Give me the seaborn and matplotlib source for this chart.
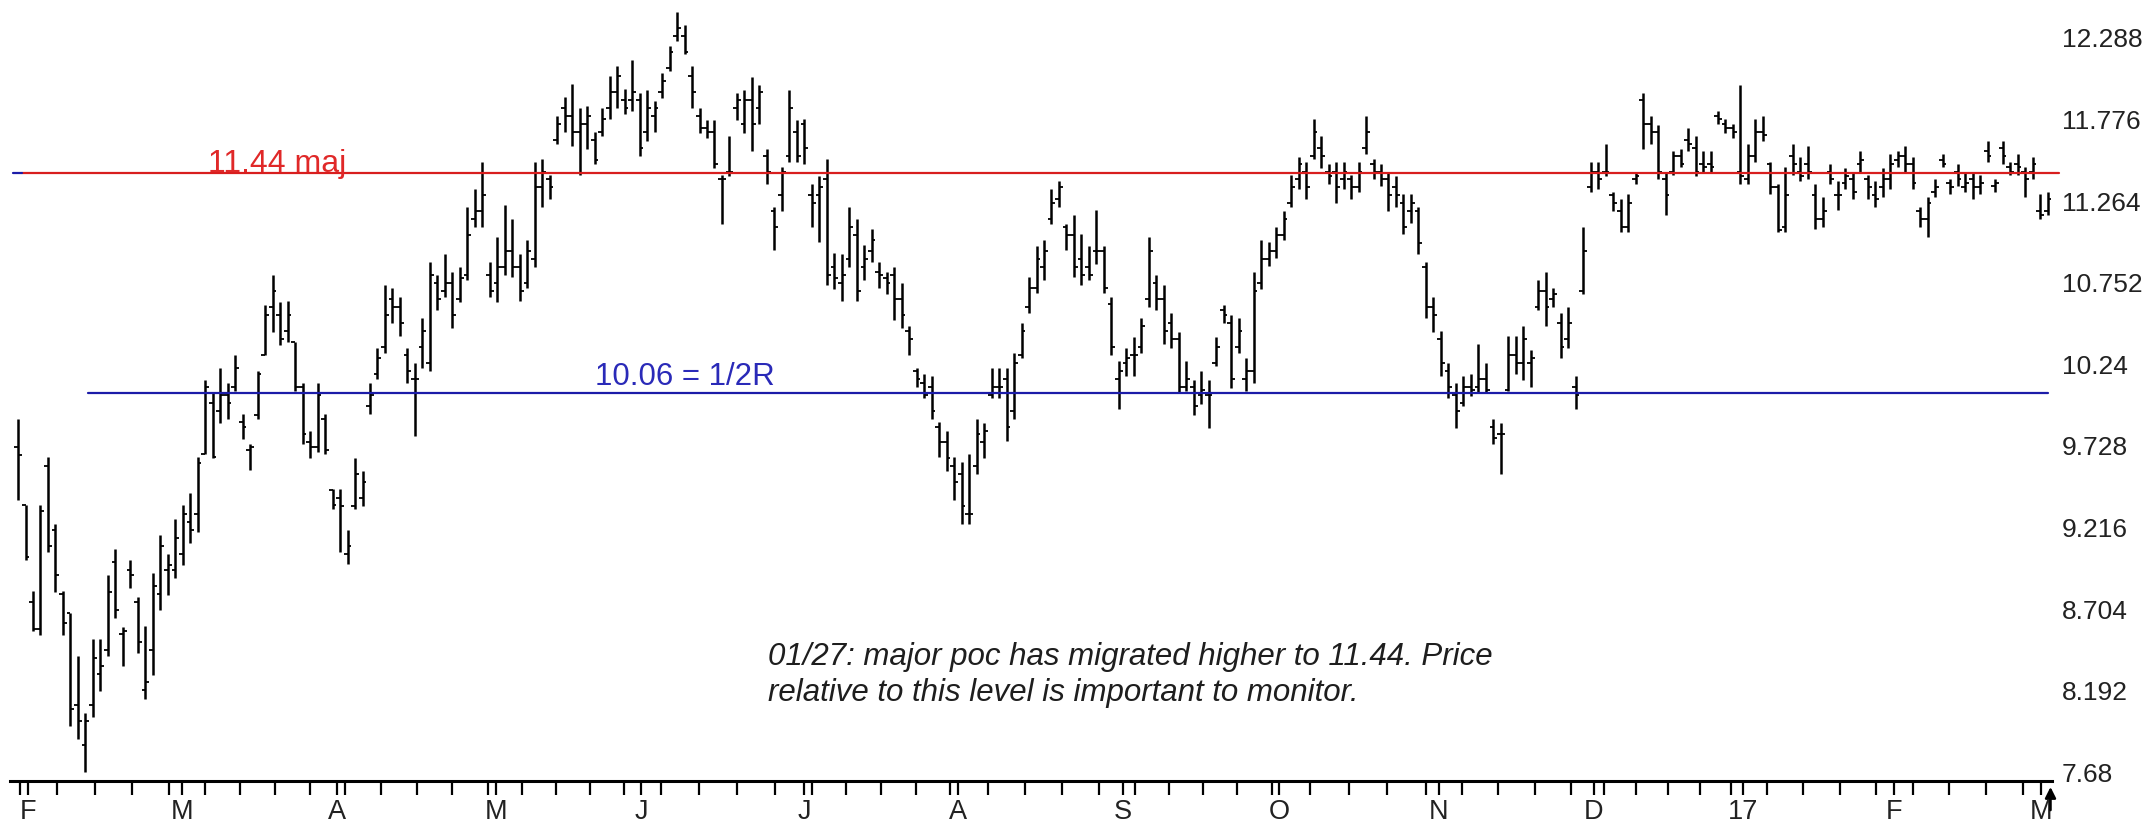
import numpy as np
import pandas as pd
import matplotlib
matplotlib.use("Agg")
import matplotlib.pyplot as plt
import seaborn as sns

# ---------------- data ----------------
highs = [
    9.90, 9.36, 8.82, 9.36, 9.66, 9.24, 8.82, 8.68, 8.41, 8.05,
    8.52, 8.52, 8.92, 9.08, 8.59, 9.01, 8.78, 8.60, 8.93, 9.17,
    9.05, 9.27, 9.36, 9.43, 9.66, 10.14, 10.06, 10.22, 10.12, 10.30,
    9.93, 9.74, 10.20, 10.61, 10.80, 10.63, 10.64, 10.38, 10.12, 9.82,
    10.12, 9.93, 9.46, 9.46,
    9.20, 9.65, 9.57, 10.12, 10.34, 10.74, 10.72, 10.66, 10.34, 10.25,
    10.53, 10.88, 10.80, 10.93, 10.82, 10.85, 11.23, 11.34, 11.51, 10.88,
    11.04, 11.24, 11.15, 10.93, 11.02, 11.51, 11.53, 11.43, 11.80, 11.92,
    12.00, 11.85, 11.86, 11.70, 11.85, 12.05, 12.11, 11.97, 12.15, 11.94,
    11.96, 11.89, 12.07, 12.24, 12.45, 12.37,
    12.11, 11.85, 11.77, 11.77, 11.43, 11.67, 11.94, 11.96, 12.04, 11.99,
    11.59, 11.23, 11.48, 11.96, 11.77, 11.78, 11.37, 11.42, 11.53, 10.94,
    10.93, 11.23, 11.15, 10.99, 11.09, 10.88, 10.82, 10.85, 10.75, 10.48,
    10.22, 10.18, 10.17, 9.88, 9.82, 9.66, 9.63, 9.68, 9.90, 9.87,
    10.22, 10.22, 10.22, 10.31, 10.50,
    10.79, 10.98, 11.02, 11.34, 11.39, 11.12, 11.18, 11.06, 10.98, 11.21,
    10.98, 10.66, 10.26, 10.34, 10.41, 10.53, 11.04, 10.80, 10.74, 10.56,
    10.44, 10.26, 10.14, 10.20, 10.14, 10.41, 10.61, 10.55, 10.53, 10.28,
    10.82, 11.02, 11.01, 11.10, 11.20, 11.43, 11.54, 11.51, 11.78, 11.67,
    11.50, 11.51, 11.51, 11.43, 11.51,
    11.80, 11.53, 11.50, 11.45, 11.42, 11.31, 11.31, 11.23, 10.88, 10.66,
    10.45, 10.25, 10.12, 10.17, 10.18, 10.37, 10.25, 9.90, 9.87, 10.42,
    10.42, 10.48, 10.33, 10.77, 10.82, 10.72, 10.56, 10.60, 10.17, 11.10,
    11.51, 11.51, 11.62, 11.32, 11.28, 11.31, 11.45, 11.94, 11.80, 11.74,
    11.45, 11.58, 11.59, 11.72, 11.67, 11.58,
    11.58, 11.83, 11.78, 11.75, 11.99, 11.62, 11.78, 11.80, 11.51, 11.37,
    11.48, 11.62, 11.54, 11.61, 11.37, 11.29, 11.50, 11.39, 11.47, 11.45,
    11.58, 11.43, 11.39, 11.47, 11.56, 11.58, 11.61, 11.54, 11.23, 11.29,
    11.40, 11.56, 11.40, 11.50, 11.45, 11.45, 11.43, 11.64, 11.40, 11.64,
    11.51, 11.56, 11.48, 11.54, 11.31, 11.32,
]
lows = [
    9.39, 9.01, 8.57, 8.54, 9.06, 8.81, 8.54, 7.97, 7.89, 7.68,
    8.03, 8.19, 8.41, 8.65, 8.35, 8.84, 8.43, 8.14, 8.29, 8.70,
    8.79, 8.90, 8.98, 9.12, 9.19, 9.68, 9.65, 9.87, 9.90, 10.07,
    9.77, 9.58, 9.90, 10.30, 10.44, 10.36, 10.38, 10.07, 9.74, 9.65,
    9.69, 9.68, 9.33, 9.06,
    8.99, 9.33, 9.35, 9.93, 10.15, 10.31, 10.50, 10.42, 10.12, 9.79,
    10.22, 10.20, 10.58, 10.66, 10.47, 10.63, 10.77, 11.10, 11.10, 10.66,
    10.63, 10.80, 10.79, 10.64, 10.72, 10.85, 11.23, 11.28, 11.62, 11.70,
    11.61, 11.43, 11.59, 11.50, 11.67, 11.78, 11.85, 11.81, 11.83, 11.55,
    11.64, 11.70, 11.91, 12.08, 12.27, 12.19,
    11.85, 11.69, 11.66, 11.47, 11.12, 11.42, 11.77, 11.69, 11.58, 11.75,
    11.37, 10.96, 11.20, 11.51, 11.51, 11.50, 11.10, 11.01, 10.74, 10.71,
    10.64, 10.85, 10.64, 10.77, 10.88, 10.72, 10.68, 10.52, 10.47, 10.30,
    10.10, 10.03, 9.90, 9.66, 9.57, 9.39, 9.24, 9.24, 9.55, 9.65,
    10.03, 10.03, 9.76, 9.90, 10.28,
    10.56, 10.69, 10.77, 11.12, 11.23, 10.96, 10.79, 10.74, 10.77, 10.87,
    10.69, 10.30, 9.96, 10.17, 10.17, 10.31, 10.60, 10.58, 10.37, 10.34,
    10.06, 10.07, 9.92, 9.99, 9.84, 10.23, 10.50, 10.09, 10.31, 10.07,
    10.12, 10.71, 10.86, 10.91, 11.02, 11.23, 11.34, 11.28, 11.53, 11.47,
    11.37, 11.25, 11.34, 11.28, 11.32,
    11.56, 11.40, 11.36, 11.20, 11.23, 11.06, 11.13, 10.93, 10.53, 10.44,
    10.17, 10.03, 9.84, 9.98, 10.04, 10.06, 10.06, 9.74, 9.55, 10.07,
    10.18, 10.14, 10.10, 10.58, 10.48, 10.60, 10.28, 10.34, 9.96, 10.68,
    11.32, 11.34, 11.42, 11.20, 11.07, 11.07, 11.37, 11.59, 11.62, 11.40,
    11.18, 11.43, 11.48, 11.58, 11.42, 11.45,
    11.45, 11.75, 11.69, 11.66, 11.37, 11.37, 11.51, 11.64, 11.31, 11.07,
    11.07, 11.43, 11.39, 11.40, 11.09, 11.10, 11.37, 11.21, 11.34, 11.28,
    11.45, 11.28, 11.23, 11.29, 11.34, 11.48, 11.45, 11.34, 11.10, 11.04,
    11.29, 11.48, 11.31, 11.36, 11.32, 11.28, 11.31, 11.51, 11.32, 11.50,
    11.43, 11.43, 11.29, 11.40, 11.15, 11.18,
]
opens = [
    9.72, 9.36, 8.75, 8.58, 9.60, 9.20, 8.80, 8.68, 8.10, 7.85,
    8.10, 8.30, 8.45, 9.00, 8.55, 8.95, 8.75, 8.20, 8.45, 8.80,
    8.95, 8.95, 9.05, 9.25, 9.30, 9.68, 10.00, 9.95, 10.05, 10.10,
    9.88, 9.70, 9.92, 10.30, 10.60, 10.55, 10.45, 10.38, 10.10, 9.75,
    9.72, 9.90, 9.45, 9.40,
    9.05, 9.35, 9.40, 9.98, 10.18, 10.35, 10.65, 10.60, 10.30, 10.15,
    10.35, 10.25, 10.75, 10.70, 10.75, 10.65, 10.80, 11.15, 11.20, 10.80,
    10.75, 10.85, 10.95, 10.85, 10.75, 10.90, 11.35, 11.40, 11.65, 11.85,
    11.80, 11.70, 11.75, 11.65, 11.70, 11.85, 11.95, 11.90, 11.90, 11.90,
    11.70, 11.80, 11.95, 12.10, 12.30, 12.30,
    12.05, 11.80, 11.72, 11.70, 11.40, 11.45, 11.85, 11.75, 11.90, 11.85,
    11.55, 11.20, 11.30, 11.55, 11.70, 11.75, 11.30, 11.30, 11.40, 10.85,
    10.75, 10.90, 11.05, 10.85, 10.95, 10.82, 10.78, 10.80, 10.65, 10.45,
    10.20, 10.12, 10.10, 9.85, 9.75, 9.60, 9.55, 9.30, 9.60, 9.75,
    10.05, 10.10, 10.15, 9.95, 10.30,
    10.60, 10.72, 10.85, 11.15, 11.28, 11.10, 11.05, 10.90, 10.85, 10.95,
    10.95, 10.62, 10.15, 10.25, 10.30, 10.35, 10.65, 10.75, 10.65, 10.50,
    10.40, 10.10, 10.10, 10.05, 10.05, 10.25, 10.58, 10.50, 10.35, 10.15,
    10.20, 10.75, 10.90, 10.95, 11.05, 11.25, 11.40, 11.45, 11.55, 11.60,
    11.45, 11.45, 11.40, 11.40, 11.35,
    11.60, 11.50, 11.45, 11.40, 11.35, 11.25, 11.20, 11.20, 10.85, 10.60,
    10.40, 10.20, 10.05, 10.00, 10.10, 10.10, 10.15, 9.85, 9.80, 10.08,
    10.30, 10.25, 10.25, 10.60, 10.70, 10.65, 10.50, 10.40, 10.10, 10.70,
    11.35, 11.45, 11.45, 11.30, 11.20, 11.10, 11.40, 11.90, 11.75, 11.70,
    11.40, 11.45, 11.55, 11.65, 11.60, 11.50,
    11.50, 11.80, 11.75, 11.72, 11.45, 11.40, 11.55, 11.70, 11.50, 11.35,
    11.10, 11.55, 11.45, 11.50, 11.30, 11.15, 11.45, 11.30, 11.38, 11.40,
    11.50, 11.40, 11.30, 11.35, 11.40, 11.52, 11.55, 11.50, 11.20, 11.15,
    11.32, 11.52, 11.38, 11.45, 11.35, 11.40, 11.35, 11.58, 11.36, 11.60,
    11.48, 11.50, 11.45, 11.45, 11.20, 11.20,
]
closes = [
    9.67, 9.03, 8.58, 9.32, 9.10, 8.92, 8.62, 8.08, 8.00, 8.00,
    8.40, 8.35, 8.81, 8.70, 8.57, 8.92, 8.50, 8.25, 8.85, 9.10,
    8.98, 9.15, 9.30, 9.20, 9.62, 10.10, 9.66, 10.05, 10.00, 10.22,
    9.85, 9.72, 10.18, 10.55, 10.70, 10.40, 10.55, 10.10, 9.80, 9.72,
    10.05, 9.70, 9.36, 9.35,
    9.10, 9.55, 9.50, 10.05, 10.28, 10.55, 10.60, 10.50, 10.20, 10.15,
    10.45, 10.80, 10.65, 10.75, 10.55, 10.78, 11.05, 11.20, 11.30, 10.70,
    10.85, 10.95, 10.85, 10.70, 10.95, 11.35, 11.45, 11.35, 11.75, 11.80,
    11.70, 11.75, 11.80, 11.52, 11.78, 11.95, 12.05, 11.85, 11.95, 11.60,
    11.85, 11.85, 12.02, 12.20, 12.35, 12.20,
    11.95, 11.72, 11.70, 11.50, 11.40, 11.45, 11.90, 11.90, 11.75, 11.95,
    11.45, 11.10, 11.45, 11.85, 11.55, 11.60, 11.25, 11.35, 10.80, 10.78,
    10.80, 11.10, 10.70, 10.90, 11.02, 10.80, 10.75, 10.65, 10.55, 10.40,
    10.15, 10.05, 9.95, 9.75, 9.65, 9.50, 9.35, 9.30, 9.80, 9.82,
    10.10, 10.10, 9.85, 10.25, 10.45,
    10.72, 10.90, 10.95, 11.25, 11.35, 11.05, 10.85, 10.80, 10.80, 10.95,
    10.72, 10.35, 10.20, 10.28, 10.30, 10.48, 10.95, 10.65, 10.45, 10.40,
    10.10, 10.15, 9.98, 10.08, 10.05, 10.35, 10.55, 10.15, 10.45, 10.20,
    10.70, 10.90, 10.95, 11.05, 11.15, 11.35, 11.50, 11.35, 11.70, 11.55,
    11.42, 11.35, 11.45, 11.35, 11.45,
    11.70, 11.45, 11.40, 11.30, 11.30, 11.10, 11.25, 11.00, 10.60, 10.55,
    10.25, 10.10, 9.95, 10.10, 10.08, 10.15, 10.08, 9.78, 9.80, 10.30,
    10.25, 10.40, 10.28, 10.70, 10.60, 10.68, 10.35, 10.50, 10.05, 10.95,
    11.45, 11.40, 11.45, 11.25, 11.10, 11.25, 11.42, 11.75, 11.70, 11.45,
    11.30, 11.55, 11.50, 11.62, 11.45, 11.48,
    11.48, 11.78, 11.72, 11.70, 11.42, 11.55, 11.70, 11.68, 11.35, 11.08,
    11.30, 11.50, 11.42, 11.45, 11.15, 11.20, 11.40, 11.30, 11.42, 11.32,
    11.52, 11.35, 11.28, 11.40, 11.50, 11.55, 11.50, 11.38, 11.15, 11.25,
    11.35, 11.50, 11.35, 11.40, 11.38, 11.35, 11.38, 11.55, 11.38, 11.55,
    11.45, 11.48, 11.40, 11.50, 11.18, 11.28,
]

poc_level = 11.44
poc_label = "11.44 maj"
half_r_level = 10.06
half_r_label = "10.06 = 1/2R"

ytick_vals = [7.68, 8.192, 8.704, 9.216, 9.728, 10.24, 10.752, 11.264, 11.776, 12.288]
ytick_labels = ["7.68", "8.192", "8.704", "9.216", "9.728", "10.24", "10.752",
                "11.264", "11.776", "12.288"]

month_labels = ["F", "M", "A", "M", "J", "J", "A", "S", "O", "N", "D", "17", "F", "M"]
month_starts = ["2016-02-01", "2016-03-01", "2016-04-01", "2016-05-02", "2016-06-01",
                "2016-07-01", "2016-08-01", "2016-09-01", "2016-10-03", "2016-11-01",
                "2016-12-01", "2017-01-03", "2017-02-01", "2017-03-01"]
# bar-index position of each month label on the axis
month_pos = [1.3, 21.9, 42.6, 63.8, 83.2, 105.0, 125.5, 147.5, 168.4, 189.7,
             210.4, 230.4, 250.5, 270.1]

note = ("01/27: major poc has migrated higher to 11.44. Price\n"
        "relative to this level is important to monitor.")

# ---------------- figure ----------------
sns.set_theme(style="white")
plt.rcParams["font.family"] = ["Liberation Sans", "DejaVu Sans"]

W, H = 2154, 821
fig = plt.figure(figsize=(W / 100, H / 100), dpi=100)
fig.patch.set_facecolor("white")
ax = fig.add_axes([10 / W, 40 / H, 2042 / W, 781 / H])
ax.set_facecolor("white")

df = pd.DataFrame({"high": highs, "low": lows, "open": opens, "close": closes})
df["bar"] = np.arange(len(df))

# OHLC bars
ax.vlines(df["bar"], df["low"], df["high"], color="black", linewidth=1.8)
ax.hlines(df["open"], df["bar"] - 0.5, df["bar"], color="black", linewidth=1.3)
ax.hlines(df["close"], df["bar"], df["bar"] + 0.5, color="black", linewidth=1.3)

# horizontal levels (seaborn line plots)
red = "#D81E1E"
blue = "#1C1CA8"
levels = pd.DataFrame({
    "x": [0.5, 272.6, -0.7, 0.5, 9.3, 271.1],
    "y": [poc_level, poc_level, poc_level, poc_level, half_r_level, half_r_level],
    "name": ["poc", "poc", "stub", "stub", "half", "half"],
})
sns.lineplot(data=levels, x="x", y="y", hue="name", units="name", estimator=None,
             palette={"poc": red, "stub": blue, "half": blue}, linewidth=1.6,
             legend=False, ax=ax, sort=False)
for ln in ax.lines:
    ln.set_clip_on(False)

ax.text(25.4, poc_level + 0.008, poc_label, color="#E02828", fontsize=23,
        va="baseline", ha="left")
ax.text(77.0, half_r_level + 0.05, half_r_label, color="#2A2AB8", fontsize=22.5,
        va="baseline", ha="left")

fig.text(768 / W, 1 - 675 / H, note, fontsize=22.5, style="italic", color="#1e1e1e",
         ha="left", va="center", linespacing=1.3)

# axes limits
ax.set_xlim(-1.07, 271.6)
ax.set_ylim(7.626, 12.526)

# x axis: month labels + weekly ticks
ms = pd.to_datetime(month_starts).astype("int64").to_numpy()
mondays = pd.date_range("2016-02-01", "2017-03-01", freq="W-MON")
week_pos = np.interp(mondays.astype("int64").to_numpy(), ms, month_pos) - 1.0
week_pos = week_pos[week_pos > -1.0]
ax.set_xticks(month_pos)
ax.set_xticklabels(month_labels)
ax.set_xticks(week_pos, minor=True)
ax.tick_params(axis="x", which="both", direction="out", length=10, width=1.6,
               color="black", bottom=True)
ax.tick_params(axis="x", which="major", labelsize=19.5, pad=3, labelcolor="#222222")

# small end-of-axis arrow marker
ax.annotate("", xy=(271.4, 7.626 - 0.02), xytext=(271.4, 7.626 - 0.2),
            xycoords="data", textcoords="data", annotation_clip=False,
            arrowprops=dict(arrowstyle="-|>", color="black", lw=1.8,
                            mutation_scale=16))

# y axis on the right
ax.yaxis.tick_right()
ax.set_yticks(ytick_vals)
ax.set_yticklabels(ytick_labels)
ax.tick_params(axis="y", which="both", length=0, pad=7, labelsize=19,
               labelcolor="#222222", right=True, left=False)

ax.set_xlabel("")
ax.set_ylabel("")
ax.grid(False)
sns.despine(ax=ax, left=True, top=True, right=True, bottom=False)
ax.spines["bottom"].set_color("black")
ax.spines["bottom"].set_linewidth(2.2)

fig.savefig("out.png", dpi=100, facecolor="white")
